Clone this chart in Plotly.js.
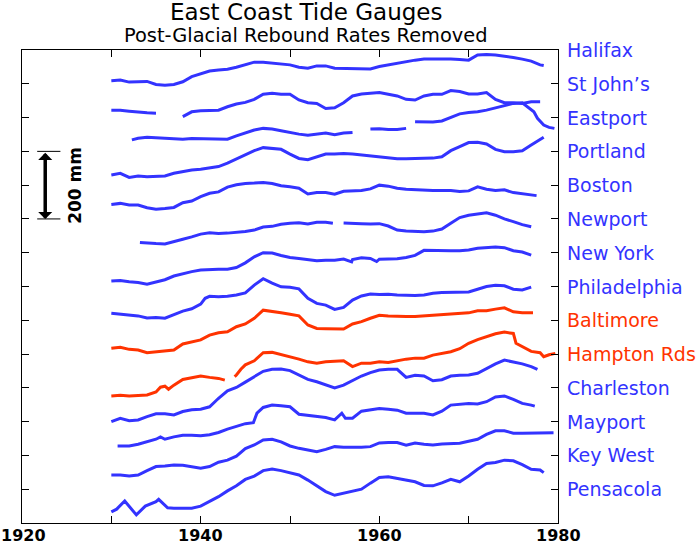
<!DOCTYPE html>
<html>
<head>
<meta charset="utf-8">
<script src="https://cdn.plot.ly/plotly-3.0.1.min.js"></script>
<style>
  html, body { margin: 0; padding: 0; background: #fff; }
  #chart { width: 696px; height: 544px; }
</style>
</head>
<body>
<div id="chart"></div>
<script>
const stations = ['Halifax', 'St John\u2019s', 'Eastport', 'Portland', 'Boston', 'Newport', 'New York',
  'Philadelphia', 'Baltimore', 'Hampton Rds', 'Charleston', 'Mayport', 'Key West', 'Pensacola'];
const stationColors = ['#3333ff', '#3333ff', '#3333ff', '#3333ff', '#3333ff', '#3333ff', '#3333ff',
  '#3333ff', '#ff3300', '#ff3300', '#3333ff', '#3333ff', '#3333ff', '#3333ff'];
// each gauge is drawn around its own 100 mm step on the stacked axis
const stationOffsets = [1400, 1300, 1200, 1100, 1000, 900, 800, 700, 600, 500, 400, 300, 200, 100];

// sea level anomalies, mm
const halifaxYears = [1930, 1931, 1932, 1933, 1934, 1935, 1936, 1937, 1938, 1939, 1940, 1941, 1942, 1943, 1944,
  1945, 1946, 1947, 1948, 1949, 1950, 1951, 1952, 1953, 1954, 1955, 1956, 1957, 1958, 1959, 1960, 1961, 1962,
  1963, 1964, 1965, 1966, 1967, 1968, 1969, 1970, 1971, 1972, 1973, 1974, 1975, 1976, 1977, 1978, 1978.4];
const halifaxMm = [-91, -89, -95, -93, -93, -102, -104, -102, -94, -79, -71, -62, -59, -57, -51,
  -44, -36, -36, -39, -42, -44, -51, -54, -47, -47, -54, -54, -54, -54, -56, -49, -44, -39,
  -35, -30, -27, -27, -25, -27, -28, -30, -15, -13, -15, -18, -22, -27, -33, -44, -46];

const stJohnsYears = [1930, 1931, 1932, 1933, 1934, 1935, 1936.5, 1938, 1939, 1940, 1941, 1942, 1943, 1944,
  1945, 1946, 1947, 1948, 1949, 1950, 1951, 1952, 1953, 1954, 1955, 1956, 1957, 1958, 1959, 1960, 1961, 1962,
  1963, 1964, 1965, 1966, 1967, 1968, 1969, 1970, 1971, 1972, 1973, 1974, 1975, 1976, 1977, 1978];
const stJohnsMm = [-78, -78, -81, -84, -86, -87, null, -97, -83, -80, -78, -78, -68, -60,
  -55, -46, -31, -28, -31, -31, -48, -56, -58, -73, -71, -56, -36, -30, -28, -26, -31, -36,
  -46, -48, -36, -31, -31, -20, -23, -30, -30, -26, -46, -56, -56, -58, -53, -53];

const eastportYears = [1932.3, 1933, 1934, 1935, 1936, 1937, 1938, 1939, 1940, 1941, 1942, 1943, 1944, 1945,
  1946, 1947, 1948, 1949, 1950, 1951, 1952, 1953, 1954, 1955, 1956, 1957, 1958.1, 1959, 1960, 1961, 1962, 1963,
  1963.4, 1964, 1965, 1966, 1967, 1968, 1969, 1970, 1971, 1972, 1973, 1974, 1975, 1976, 1977.3, 1977.7, 1978.4,
  1979, 1979.6];
const eastportMm = [-66, -61, -58, -59, -61, -63, -64, -62, -62, -63, -63, -64, -54, -46,
  -37, -32, -34, -39, -45, -49, -52, -49, -46, -51, -46, -44, null, -34, -33, -35, -35, -32,
  null, -12, -12, -13, -10, 1, 11, 15, 17, 22, 29, 36, 42, 44, 17, -2, -22,
  -29, -32];

const portlandYears = [1930, 1931, 1932, 1933, 1934, 1935, 1936, 1937, 1938, 1939, 1940, 1941, 1942, 1943, 1944,
  1945, 1946, 1947, 1948, 1949, 1950, 1951, 1952, 1953, 1954, 1955, 1956, 1957, 1958, 1959, 1960, 1961, 1962,
  1963, 1964, 1965, 1966, 1967, 1968, 1969, 1970, 1971, 1972, 1973, 1974, 1975, 1976, 1977, 1978, 1978.4];
const portlandMm = [-70, -65, -77, -73, -75, -75, -73, -65, -60, -55, -53, -50, -45, -35, -23,
  -11, 2, 11, 9, 6, -8, -21, -25, -16, -8, -8, -6, -8, -11, -14, -16, -19, -22,
  -22, -22, -21, -20, -16, 2, 14, 26, 27, 22, 6, -1, -1, 2, 19, 36, 42];

const bostonYears = [1930, 1931, 1932, 1933, 1934, 1935, 1936, 1937, 1938, 1939, 1940, 1941, 1942, 1943, 1944,
  1945, 1946, 1947, 1948, 1949, 1950, 1951, 1952, 1953, 1954, 1955, 1956, 1957, 1958, 1959, 1960, 1961, 1962,
  1963, 1964, 1965, 1966, 1967, 1968, 1969, 1970, 1971, 1972, 1973, 1974, 1975, 1976, 1977, 1977.6];
const bostonMm = [-57, -54, -59, -59, -67, -71, -69, -66, -52, -47, -34, -24, -20, -6, 1,
  5, 6, 8, 5, -2, -5, -9, -26, -22, -22, -27, -18, -16, -16, -11, 0, -3, -9,
  -12, -14, -16, -16, -16, -16, -19, -17, -5, -12, -16, -14, -22, -26, -29, -31];

const newportYears = [1933.2, 1934, 1935, 1936, 1937, 1938, 1939, 1940, 1941, 1942, 1943, 1944, 1945, 1946,
  1947, 1948, 1949, 1950, 1951, 1952, 1953, 1954, 1954.8, 1955.2, 1956, 1957, 1958, 1959, 1960, 1961, 1962,
  1963, 1964, 1965, 1966, 1967, 1968, 1969, 1970, 1971, 1972, 1973, 1974, 1975, 1976, 1977];
const newportMm = [-70, -72, -73, -74, -66, -60, -53, -45, -41, -43, -42, -40, -37, -33,
  -24, -22, -16, -13, -11, -15, -10, -10, -13, null, -12, -12, -14, -15, -14, -21, -33,
  -36, -38, -38, -36, -30, -13, 4, 11, 15, 18, 11, 0, -8, -17, -23];

const newYorkYears = [1930, 1931, 1932, 1933, 1934, 1935, 1936, 1937, 1938, 1939, 1940, 1941, 1942, 1943, 1944,
  1945, 1946, 1947, 1948, 1949, 1950, 1951, 1952, 1953, 1954, 1955, 1956, 1956.9, 1957, 1958, 1959, 1959.7,
  1960, 1961, 1962, 1963, 1964, 1965, 1966, 1967, 1968, 1969, 1970, 1971, 1972, 1973, 1974, 1975, 1976, 1977];
const newYorkMm = [-84, -82, -86, -88, -93, -87, -80, -69, -62, -56, -51, -49, -49, -49, -44,
  -30, -12, 0, -1, -8, -14, -17, -20, -24, -22, -22, -19, -27, -20, -15, -17, -26,
  -19, -18, -18, -14, -8, 7, 6, 6, 6, 6, 8, 13, 16, 17, 15, 6, 2, -7];

const philadelphiaYears = [1930, 1931, 1932, 1933, 1934, 1935, 1936, 1937, 1938, 1939, 1940, 1940.5, 1941, 1942,
  1943, 1944, 1945, 1946, 1947, 1948, 1949, 1950, 1951, 1952, 1953, 1954, 1955, 1956, 1957, 1958, 1959, 1960,
  1961, 1962, 1963, 1964, 1965, 1966, 1967, 1968, 1969, 1970, 1971, 1972, 1973, 1974, 1975, 1976, 1977];
const philadelphiaMm = [-79, -81, -84, -87, -93, -92, -94, -84, -73, -66, -52, -35, -29, -30,
  -29, -25, -19, 4, 23, 10, -1, -2, -7, -35, -50, -55, -68, -62, -40, -28, -22, -24,
  -23, -25, -27, -27, -25, -20, -18, -18, -18, -16, -8, 0, 4, 2, -8, -10, -2];

const baltimoreYears = [1930, 1931, 1932, 1933, 1934, 1935, 1936, 1937, 1938, 1939, 1940, 1941, 1942, 1943, 1944,
  1945, 1946, 1947, 1948, 1949, 1950, 1951, 1952, 1953, 1954, 1955, 1956, 1957, 1958, 1959, 1960, 1961, 1962,
  1963, 1964, 1965, 1966, 1967, 1968, 1969, 1970, 1971, 1972, 1973, 1974, 1975, 1976, 1977.2];
const baltimoreMm = [-83, -80, -86, -88, -96, -93, -90, -88, -70, -64, -58, -44, -37, -34, -19,
  -11, 6, 30, 27, 22, 18, 13, -14, -24, -25, -26, -26, -11, -4, 6, 15, 13, 11,
  11, 11, 13, 16, 18, 19, 21, 22, 28, 28, 33, 37, 25, 22, 22];

const hamptonYears = [1930, 1931, 1932, 1933, 1934, 1935, 1935.5, 1936, 1936.4, 1937, 1938, 1939, 1940, 1941,
  1942, 1942.7, 1943.2, 1943.8, 1944, 1944.5, 1945, 1946, 1947, 1948, 1949, 1950, 1951, 1952, 1953, 1954,
  1955, 1956, 1957, 1958, 1959, 1960, 1961, 1962, 1963, 1964, 1965, 1966, 1967, 1968, 1969, 1970, 1971,
  1972, 1973, 1974, 1975, 1975.3, 1976, 1977, 1978, 1978.4, 1979, 1979.7];
const hamptonMm = [-124, -122, -124, -122, -121, -112, -98, -95, -104, -92, -75, -70, -65, -69,
  -72, -77, null, -67, -62, -45, -32, -20, 4, 5, -1, -8, -15, -23, -27, -23,
  -22, -20, -37, -27, -27, -23, -25, -19, -15, -12, -12, -3, 2, 7, 16, 32, 43,
  52, 60, 65, 61, 32, 22, 8, 4, -8, -2, 2];

const charlestonYears = [1930, 1931, 1932, 1933, 1934, 1935, 1936, 1937, 1938, 1939, 1940, 1941, 1941.8, 1942,
  1943, 1944, 1945, 1946, 1947, 1948, 1949, 1950, 1951, 1952, 1953, 1954, 1955, 1956, 1957, 1958, 1959, 1960,
  1961, 1962, 1963, 1964, 1965, 1966, 1967, 1968, 1969, 1970, 1971, 1972, 1973, 1974, 1975, 1976, 1977, 1977.7];
const charlestonMm = [-100, -90, -97, -95, -85, -77, -77, -80, -70, -65, -63, -56, -36, -31,
  -9, 1, 17, 34, 49, 55, 56, 51, 37, 25, 18, 8, 0, 8, 21, 35, 45, 53,
  55, 55, 31, 37, 35, 21, 24, 35, 37, 38, 43, 58, 71, 82, 77, 71, 63, 55];

const mayportYears = [1930.7, 1931, 1932, 1933, 1934, 1935, 1935.5, 1936, 1937, 1938, 1939, 1940, 1941, 1942,
  1943, 1944, 1945, 1945.9, 1946.3, 1947, 1948, 1949, 1950, 1951, 1952, 1953, 1954, 1955, 1955.8, 1956.2,
  1957, 1958, 1959, 1960, 1961, 1962, 1963, 1964, 1965, 1966, 1967, 1968, 1969, 1970, 1971, 1972, 1973,
  1974, 1975, 1976, 1977, 1977.4];
const mayportMm = [-72, -72, -72, -67, -60, -52, -45, -52, -45, -40, -40, -42, -39, -32,
  -22, -13, -6, -3, 25, 42, 49, 47, 44, 22, 18, 16, 12, 5, 25, 10,
  10, 31, 36, 39, 37, 34, 25, 25, 25, 20, 31, 49, 52, 54, 52, 59, 73,
  76, 66, 54, 49, 46];

const keyWestYears = [1930, 1931, 1932, 1933, 1934, 1935, 1936, 1937, 1938, 1939, 1940, 1941, 1942, 1943, 1944,
  1945, 1946, 1947, 1948, 1949, 1950, 1951, 1952, 1953, 1954, 1955, 1956, 1957, 1958, 1959, 1960, 1961, 1962,
  1963, 1964, 1965, 1966, 1967, 1968, 1969, 1970, 1971, 1972, 1973, 1974, 1975, 1976, 1977, 1978, 1979, 1979.5];
const keyWestMm = [-58, -58, -61, -58, -45, -33, -31, -28, -29, -33, -38, -33, -20, -14, -2,
  20, 31, 46, 48, 40, 28, 21, 17, 11, 18, 26, 24, 23, 24, 26, 37, 38, 38,
  30, 37, 33, 31, 34, 36, 36, 42, 48, 62, 73, 73, 66, 66, 66, 66, 66, 67];

const pensacolaYears = [1930, 1930.6, 1931.5, 1932.8, 1933.8, 1934.4, 1935, 1935.3, 1935.8, 1936.3, 1937, 1938,
  1939, 1940, 1941, 1942, 1943, 1944, 1945, 1946, 1947, 1948, 1949, 1950, 1951, 1952, 1953, 1954, 1955, 1956,
  1957, 1958, 1959, 1960, 1961, 1962, 1963, 1964, 1965, 1966, 1967, 1968, 1969, 1970, 1971, 1972, 1973, 1974,
  1975, 1976, 1977, 1978, 1978.4];
const pensacolaMm = [-67, -59, -35, -76, -50, -44, -37, -30, -44, -55, -56, -56,
  -56, -50, -37, -22, -5, 10, 29, 39, 55, 60, 55, 49, 42, 27, 10, -7, -18, -12,
  -8, 0, 18, 35, 37, 32, 25, 22, 11, 10, 19, 29, 22, 39, 59, 76, 79, 86,
  84, 73, 59, 57, 49];

const seriesYears = [halifaxYears, stJohnsYears, eastportYears, portlandYears, bostonYears, newportYears,
  newYorkYears, philadelphiaYears, baltimoreYears, hamptonYears, charlestonYears, mayportYears, keyWestYears,
  pensacolaYears];
const seriesMm = [halifaxMm, stJohnsMm, eastportMm, portlandMm, bostonMm, newportMm, newYorkMm,
  philadelphiaMm, baltimoreMm, hamptonMm, charlestonMm, mayportMm, keyWestMm, pensacolaMm];

const xTickVals = [1920, 1930, 1940, 1950, 1960, 1970, 1980];
const xLabelYears = [1920, 1940, 1960, 1980];

// 200 mm scale bar
const scaleBarMm = [900, 1100];
const scaleBarYear = 1922.6;
const scaleBarCapYears = [1921.7, 1924.3];

const traces = stations.map((name, i) => ({
  x: seriesYears[i],
  y: seriesMm[i].map(v => (v === null ? null : v + stationOffsets[i])),
  type: 'scatter',
  mode: 'lines',
  name: name,
  connectgaps: false,
  line: { color: stationColors[i], width: 3 },
  hoverinfo: 'x+name'
}));

const stationLabels = stations.map((name, i) => ({
  text: name,
  xref: 'paper', yref: 'y',
  x: 1.013, y: stationOffsets[i],
  xanchor: 'left', yanchor: 'middle',
  showarrow: false,
  font: { family: 'DejaVu Sans', size: 19, color: stationColors[i] }
}));

// year labels under the axis (annotations so they can sit tight to the edge)
const yearLabels = xLabelYears.map(yr => ({
  text: String(yr),
  xref: 'x', yref: 'paper',
  x: yr, y: 0, yshift: -2,
  xshift: yr === 1920 ? 1 : 0,
  xanchor: 'center', yanchor: 'top',
  showarrow: false, borderpad: 0,
  font: { family: 'DejaVu Sans', size: 16, color: '#000', weight: 'bold' }
}));

const annotations = [
  {
    text: 'East Coast Tide Gauges',
    xref: 'paper', yref: 'paper', x: 0.53, y: 1.08,
    xanchor: 'center', yanchor: 'middle', showarrow: false,
    font: { family: 'DejaVu Sans', size: 23, color: '#000' }
  },
  {
    text: 'Post-Glacial Rebound Rates Removed',
    xref: 'paper', yref: 'paper', x: 0.53, y: 1.031,
    xanchor: 'center', yanchor: 'middle', showarrow: false,
    font: { family: 'DejaVu Sans', size: 19.4, color: '#000' }
  },
  {
    text: '',
    xref: 'x', yref: 'y', axref: 'x', ayref: 'y',
    x: scaleBarYear, y: scaleBarMm[0],
    ax: scaleBarYear, ay: scaleBarMm[1],
    showarrow: true, arrowside: 'end+start',
    arrowhead: 1, startarrowhead: 1,
    arrowwidth: 3.5, arrowsize: 0.67, startarrowsize: 0.67,
    arrowcolor: '#000'
  },
  {
    text: '200 mm',
    xref: 'x', yref: 'y',
    x: 1925.9, y: (scaleBarMm[0] + scaleBarMm[1]) / 2,
    textangle: -90, showarrow: false,
    xanchor: 'center', yanchor: 'middle',
    font: { family: 'DejaVu Sans', size: 17, color: '#000', weight: 'bold' }
  }
].concat(stationLabels, yearLabels);

const shapes = scaleBarMm.map(v => ({
  type: 'line', xref: 'x', yref: 'y',
  x0: scaleBarCapYears[0], x1: scaleBarCapYears[1], y0: v, y1: v,
  line: { color: '#000', width: 1 }
}));

const layout = {
  width: 696,
  height: 544,
  margin: { l: 22, r: 138, t: 50, b: 21 },
  paper_bgcolor: '#fff',
  plot_bgcolor: '#fff',
  showlegend: false,
  font: { family: 'DejaVu Sans', color: '#000' },
  xaxis: {
    range: [1920, 1980],
    tickvals: xTickVals,
    showticklabels: false,
    ticks: 'inside', ticklen: 7, tickcolor: '#000',
    showline: true, linecolor: '#000', linewidth: 1, mirror: 'ticks',
    showgrid: false, zeroline: false
  },
  yaxis: {
    range: [0, 1400],
    tick0: 0, dtick: 100,
    ticks: 'inside', ticklen: 7, tickcolor: '#000',
    showticklabels: false,
    showline: true, linecolor: '#000', linewidth: 1, mirror: 'ticks',
    showgrid: false, zeroline: false
  },
  annotations: annotations,
  shapes: shapes
};

Plotly.newPlot('chart', traces, layout, { displayModeBar: false, staticPlot: true });
</script>
</body>
</html>
